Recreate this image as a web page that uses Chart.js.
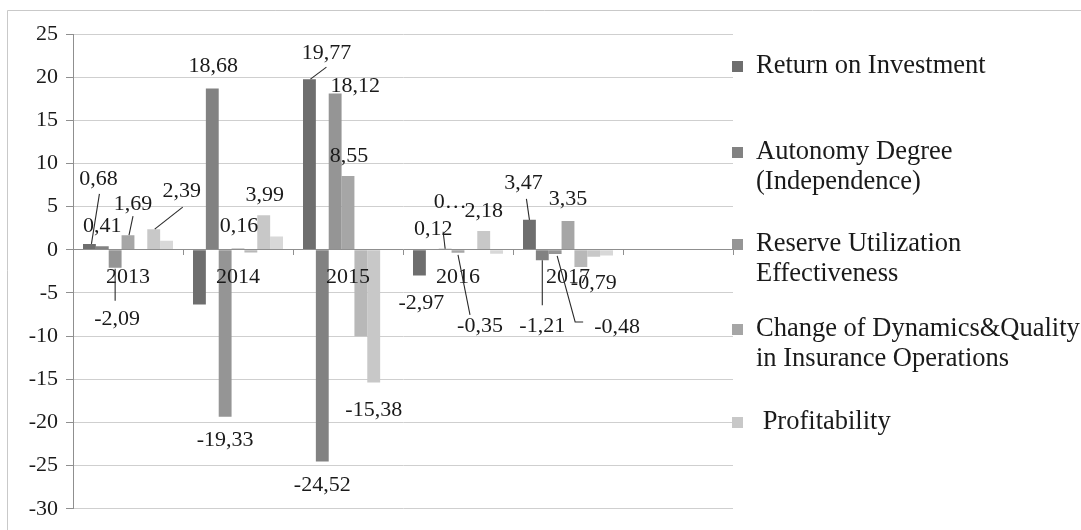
<!DOCTYPE html>
<html><head><meta charset="utf-8">
<script src="https://cdn.jsdelivr.net/npm/chart.js@4.4.1/dist/chart.umd.min.js"></script>
<style>html,body{margin:0;padding:0;background:#fff;overflow:hidden}</style>
</head><body>
<canvas id="c" width="1081" height="530"></canvas>
<script>
// ---- data ----
const categories = ['2013', '2014', '2015', '2016', '2017', ''];
const seriesNames = ['Return on Investment', 'Autonomy Degree (Independence)', 'Reserve Utilization Effectiveness',
  'Change of Dynamics&Quality in Insurance Operations', '', 'Profitability', ''];
const roi        = [0.68, -6.34, 19.77, -2.97, 3.47, null];
const autonomy   = [0.41, 18.68, -24.52, 0.04, -1.21, null];
const reserve    = [-2.09, -19.33, 18.12, 0.12, -0.48, null];
const dynamics   = [1.69, 0.16, 8.55, -0.35, 3.35, null];
const seriesE    = [0, -0.3, -10.0, 0, -2.0, null];
const profit     = [2.39, 3.99, -15.38, 2.18, -0.79, null];
const seriesG    = [1.05, 1.55, 0, -0.45, -0.65, null];
const yTicks = [25, 20, 15, 10, 5, 0, -5, -10, -15, -20, -25, -30];

// ---- styles ----
const colors = ['#6e6e6e', '#828282', '#959595', '#a6a6a6', '#b8b8b8', '#c8c8c8', '#d8d8d8'];
const FONT = '"Liberation Serif", "Times New Roman", serif';
const values = [roi, autonomy, reserve, dynamics, seriesE, profit, seriesG];

const fmt = v => v.toFixed(2).replace('.', ',');

// data label placement (offsets from bar end, pixels)
const labelSpecs = [
  {ds:0,c:0,dx:9,dy:-65,leader:[[10,-50],[2,0]]},
  {ds:1,c:0,dx:0,dy:-20},
  {ds:2,c:0,dx:2,dy:51,leader:[[0,1],[0,33]]},
  {ds:3,c:0,dx:5,dy:-31,leader:[[5,-19],[1,0]]},
  {ds:5,c:0,dx:28,dy:-38,leader:[[29,-22],[1,0]]},
  {ds:1,c:1,dx:1,dy:-22},
  {ds:2,c:1,dx:0,dy:24},
  {ds:3,c:1,dx:1,dy:-22},
  {ds:5,c:1,dx:1,dy:-20},
  {ds:0,c:2,dx:17,dy:-26,leader:[[17,-12],[1,0]]},
  {ds:1,c:2,dx:0,dy:24},
  {ds:2,c:2,dx:20,dy:-7},
  {ds:3,c:2,dx:1,dy:-20},
  {ds:5,c:2,dx:0,dy:28},
  {ds:0,c:3,dx:2,dy:28},
  {ds:1,c:3,dx:18,dy:-47,text:'0…'},
  {ds:2,c:3,dx:-12,dy:-20,leader:[[-2,-17],[0,0]]},
  {ds:3,c:3,dx:22,dy:73,leader:[[0,2],[12,62]]},
  {ds:5,c:3,dx:0,dy:-20},
  {ds:0,c:4,dx:-6,dy:-37,leader:[[-3,-21],[0,0]]},
  {ds:1,c:4,dx:0,dy:66,leader:[[0,0],[0,45]]},
  {ds:2,c:4,dx:62,dy:73,leader:[[2,2],[20,68],[28,68]]},
  {ds:3,c:4,dx:0,dy:-22},
  {ds:5,c:4,dx:0,dy:27}
];

const legendItems = [
  {ds:0, lines:['Return on Investment'], y:66},
  {ds:1, lines:['Autonomy Degree', '(Independence)'], y:152},
  {ds:2, lines:['Reserve Utilization', 'Effectiveness'], y:244},
  {ds:3, lines:['Change of Dynamics&Quality', 'in Insurance Operations'], y:329},
  {ds:5, lines:[' Profitability'], y:422}
];

const framePlugin = {
  id: 'frame',
  beforeDraw(chart) {
    const ctx = chart.ctx;
    ctx.save();
    ctx.fillStyle = '#fff';
    ctx.fillRect(0, 0, chart.width, chart.height);
    ctx.strokeStyle = '#c9c9c9';
    ctx.lineWidth = 1;
    ctx.beginPath();
    ctx.moveTo(7.5, chart.height);
    ctx.lineTo(7.5, 10.5);
    ctx.lineTo(chart.width, 10.5);
    ctx.stroke();
    ctx.restore();
  }
};

const labelPlugin = {
  id: 'barLabels',
  afterDraw(chart) {
    const ctx = chart.ctx;
    ctx.save();
    ctx.font = '22px ' + FONT;
    ctx.textAlign = 'center';
    ctx.textBaseline = 'middle';
    ctx.fillStyle = '#1a1a1a';
    ctx.strokeStyle = '#2a2a2a';
    ctx.lineWidth = 1.1;
    labelSpecs.forEach(s => {
      const el = chart.getDatasetMeta(s.ds).data[s.c];
      if (!el) return;
      const x = el.x, y = el.y;
      if (s.leader) {
        ctx.beginPath();
        s.leader.forEach((p, i) => {
          const px = x + p[0], py = y + p[1];
          if (i === 0) ctx.moveTo(px, py); else ctx.lineTo(px, py);
        });
        ctx.stroke();
      }
      const txt = s.text || fmt(values[s.ds][s.c]);
      ctx.fillText(txt, x + s.dx, y + s.dy);
    });
    // legend
    ctx.textAlign = 'left';
    ctx.font = '26.5px ' + FONT;
    legendItems.forEach(it => {
      ctx.fillStyle = chart.data.datasets[it.ds].backgroundColor;
      ctx.fillRect(732, it.y - 5, 11, 11);
      ctx.fillStyle = '#1a1a1a';
      it.lines.forEach((ln, i) => ctx.fillText(ln, 756, it.y + i * 30));
    });
    ctx.restore();
  }
};

new Chart(document.getElementById('c'), {
  type: 'bar',
  data: {
    labels: categories,
    datasets: values.map((v, i) => ({
      label: seriesNames[i],
      data: v,
      backgroundColor: colors[i],
      borderWidth: 0,
      categoryPercentage: 90 / 110,
      barPercentage: 1.0
    }))
  },
  options: {
    responsive: false,
    animation: false,
    devicePixelRatio: 1,
    layout: { padding: { left: 0, right: 348, top: 34, bottom: 19 } },
    plugins: { legend: { display: false }, tooltip: { enabled: false } },
    scales: {
      x: {
        type: 'category',
        position: { y: 0 },
        offset: true,
        grid: { drawOnChartArea: false, offset: true, tickLength: 5, color: '#8f8f8f', z: 1 },
        border: { color: '#8f8f8f', z: 1 },
        ticks: { font: { family: FONT, size: 22 }, color: '#1a1a1a', padding: 9, maxRotation: 0, autoSkip: false, z: 2 }
      },
      y: {
        min: -30, max: 25,
        afterBuildTicks(scale) { scale.ticks = yTicks.map(v => ({ value: v })); },
        afterFit(scale) { scale.width = 73; },
        grid: { color: '#cfcfcf', tickLength: 7, tickColor: '#8f8f8f' },
        border: { color: '#8f8f8f' },
        ticks: { font: { family: FONT, size: 22 }, color: '#1a1a1a', padding: 8 }
      }
    }
  },
  plugins: [framePlugin, labelPlugin]
});
</script>
</body></html>
